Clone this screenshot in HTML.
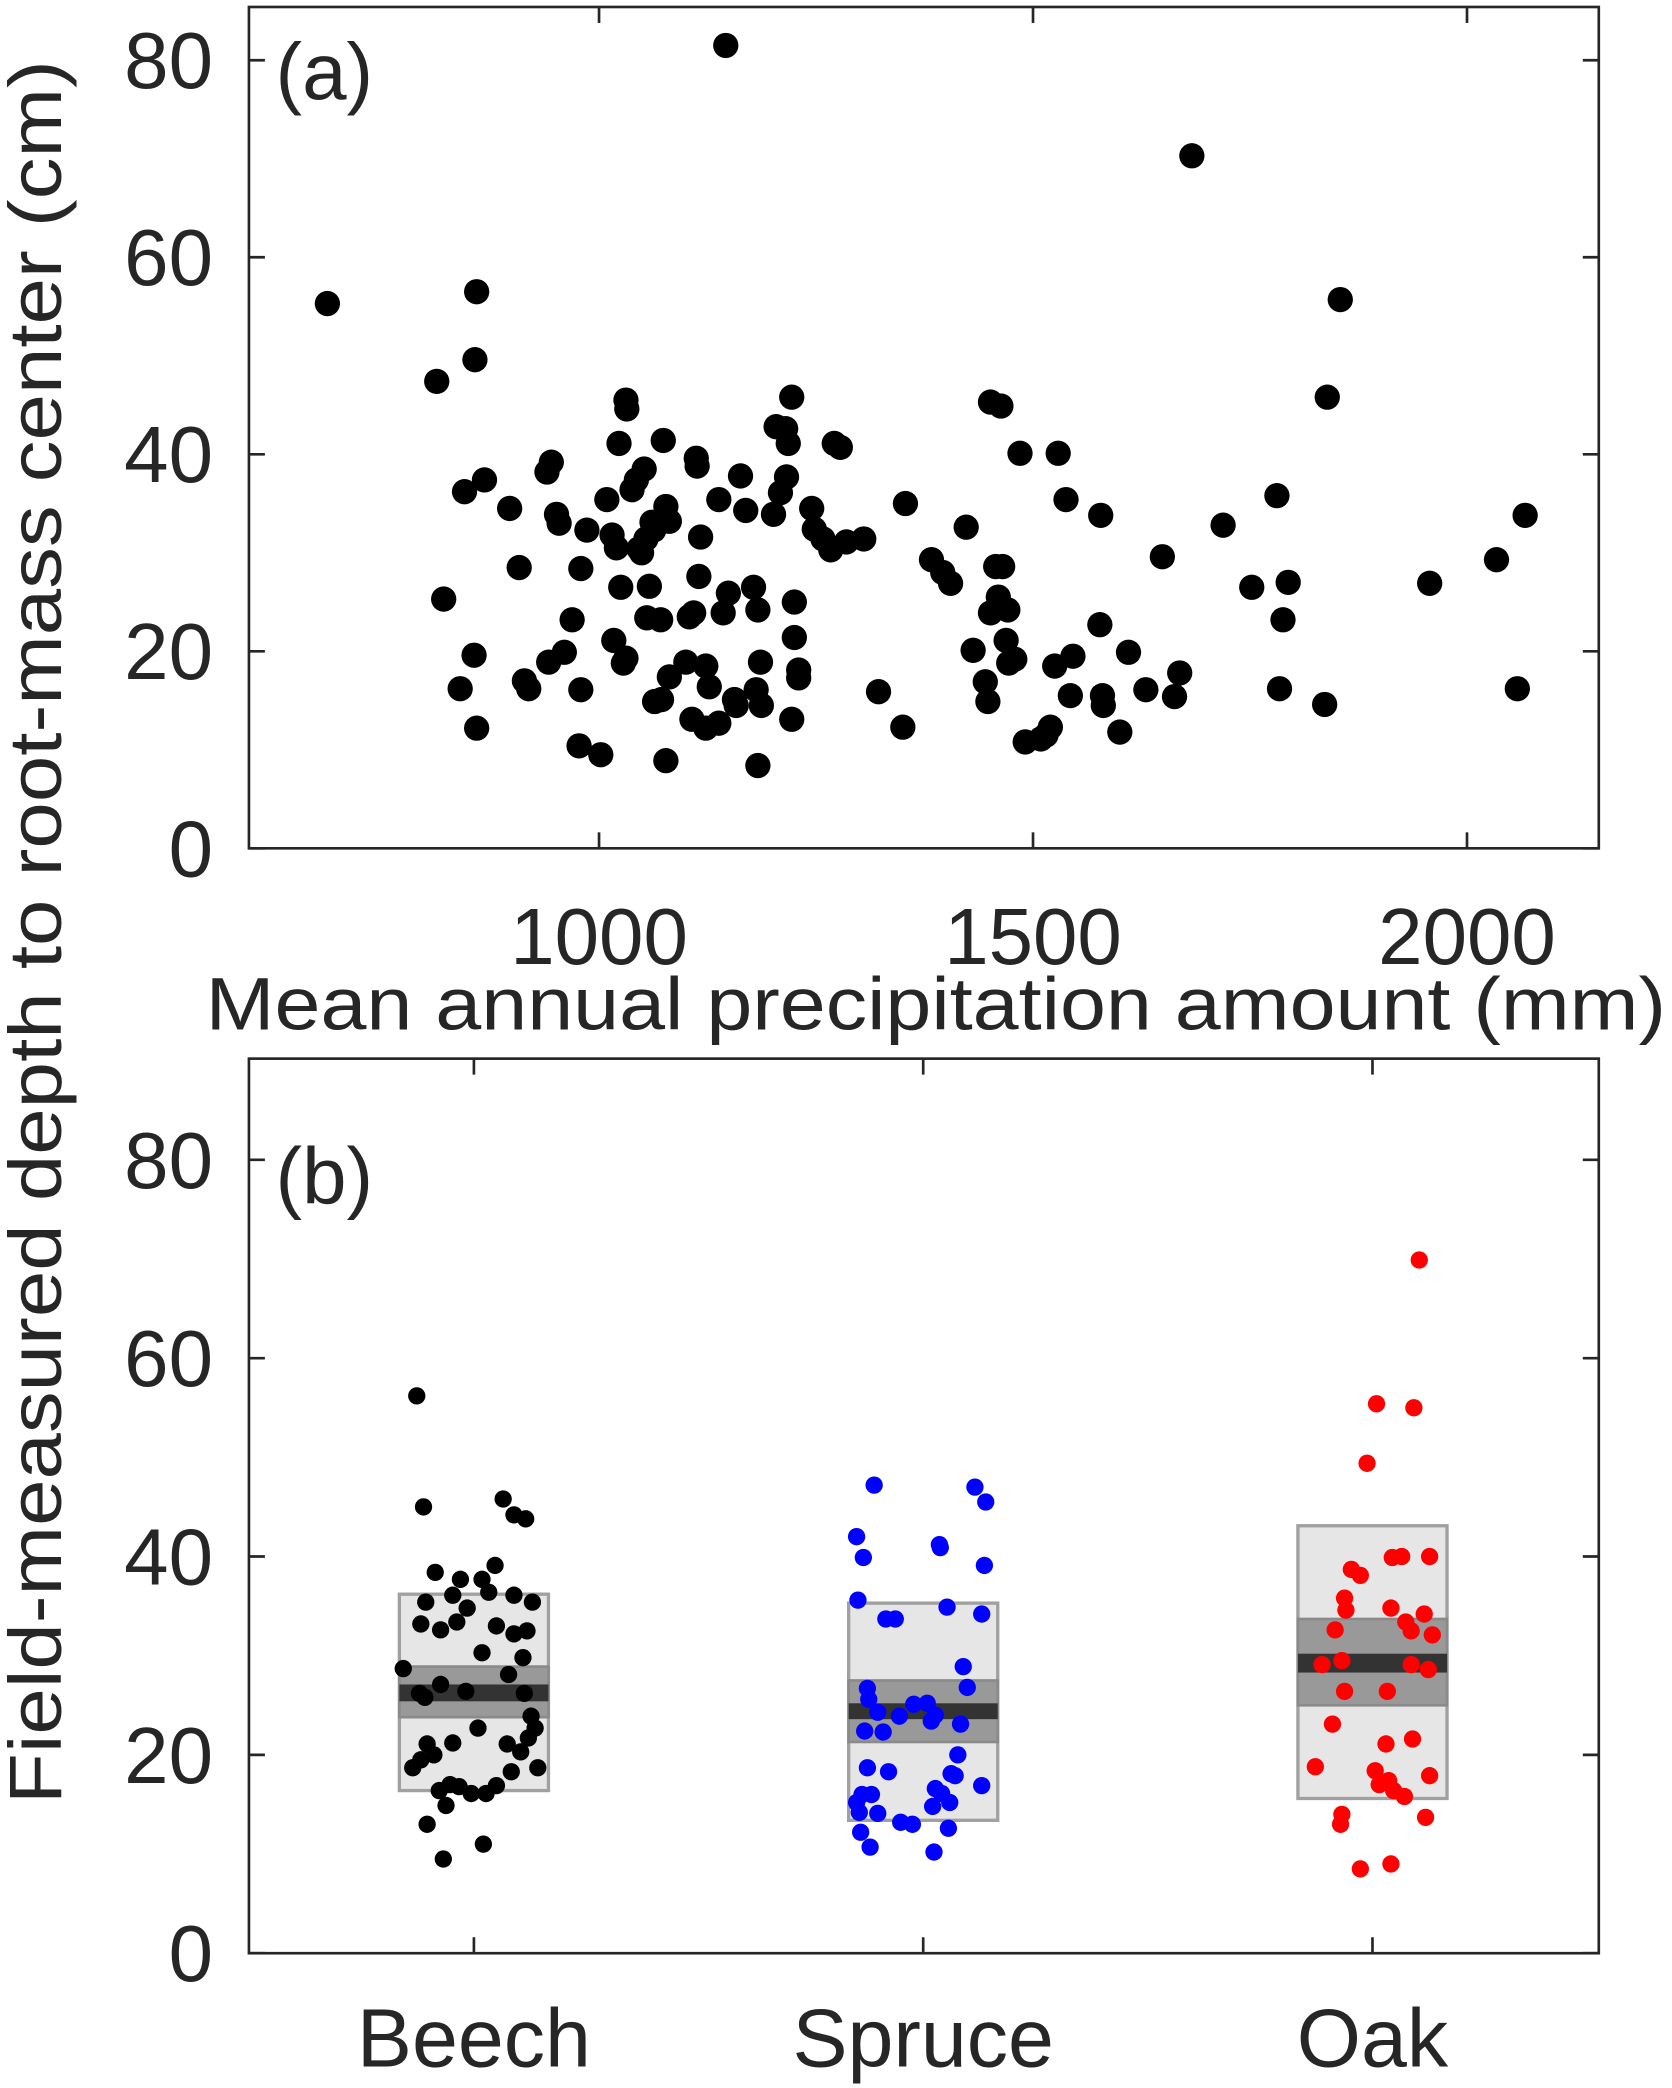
<!DOCTYPE html>
<html><head><meta charset="utf-8"><style>
html,body{margin:0;padding:0;background:#fff}
svg{display:block}
text{font-family:"Liberation Sans",Arial,sans-serif;fill:#262626}
</style></head>
<body>
<svg id="chart" width="1672" height="2088" viewBox="0 0 1256 1568" xmlns="http://www.w3.org/2000/svg">
<text x="0" y="0" font-size="56" text-anchor="middle" transform="translate(46,700) rotate(-90)" textLength="1310" lengthAdjust="spacingAndGlyphs">Field-measured depth to root-mass center (cm)</text>
<text x="703" y="773" font-size="56" text-anchor="middle" textLength="1097" lengthAdjust="spacingAndGlyphs">Mean annual precipitation amount (mm)</text>
<text x="207" y="74" font-size="60">(a)</text>
<text x="207" y="904" font-size="60">(b)</text>
<g id="ga"></g>
<g id="gb"></g>
</svg>
<script>
// Panel (a) data
const precipA=[],depthA=[];
const ptsA=[[246,228],[545,34],[895,117],[358,219],[1007,225],[328,286],[357,270],[744,302],[752,305],[997,298],[349,369],[364,360],[383,382],[411,354],[414,347],[418,386],[420,393],[390,426],[333,450],[356,492],[346,517],[358,547],[394,511],[397,517],[412,497],[424,490],[430,465],[436,518],[436,427],[441,398],[435,560],[451,567],[470,300],[471,307],[465,333],[456,375],[460,402],[463,411],[466,441],[461,481],[468,498],[470,494],[475,368],[478,360],[484,352],[480,412],[485,405],[490,392],[482,415],[491,398],[488,440],[486,464],[496,465],[498,331],[500,380],[503,391],[492,527],[503,508],[497,525],[500,571],[518,463],[521,460],[523,344],[524,350],[526,403],[515,497],[520,540],[525,433],[530,500],[533,516],[530,547],[540,543],[547,445],[540,375],[543,460],[556,357],[560,383],[552,525],[553,530],[566,441],[569,458],[571,497],[568,518],[569,575],[572,530],[583,320],[590,322],[586,370],[581,386],[592,333],[595,298],[591,358],[597,479],[600,503],[600,509],[597,452],[595,540],[610,382],[612,397],[618,405],[624,413],[627,333],[631,336],[636,407],[649,405],[660,519],[680,378],[678,546],[700,420],[708,430],[714,438],[726,396],[731,488],[740,512],[742,527],[744,460],[748,425],[750,448],[753,425],[756,481],[758,498],[757,458],[762,495],[766,340],[770,557],[782,555],[786,552],[789,546],[792,500],[795,340],[801,375],[804,522],[806,493],[826,469],[827,387],[828,522],[829,530],[841,550],[848,490],[861,518],[873,418],[882,523],[886,505],[919,394],[940,441],[959,372],[968,437],[961,517],[964,465],[995,529],[1074,438],[1124,420],[1146,387],[1140,517]];
ptsA.forEach(p=>{precipA.push(Math.round(1000+(p[0]-450)/0.652));depthA.push(+((637-p[1])/7.4).toFixed(1));});
const xTicksA=[1000,1500,2000];
const yTicks=[0,20,40,60,80];
// Panel (b) data
const categories=['Beech','Spruce','Oak'];
const beechPx=[[313,1048],[318,1132],[378,1126],[386,1138],[395,1141],[327,1181],[346,1186],[362,1186],[372,1176],[340,1198],[320,1203],[386,1198],[400,1203],[316,1220],[331,1224],[343,1218],[351,1208],[367,1196],[373,1221],[396,1225],[303,1253],[362,1241],[386,1227],[393,1245],[319,1275],[331,1265],[350,1270],[382,1258],[394,1272],[399,1289],[340,1309],[359,1298],[316,1322],[321,1310],[310,1328],[326,1318],[338,1340],[354,1347],[365,1347],[373,1341],[384,1331],[391,1316],[397,1305],[404,1328],[321,1370],[330,1345],[335,1356],[345,1342],[333,1396],[363,1385],[402,1298],[315,1272],[381,1310]];
const sprucePx=[[657,1115],[644,1154],[649,1170],[706,1160],[707,1162],[740,1176],[733,1117],[741,1128],[645,1202],[666,1216],[673,1216],[712,1207],[738,1212],[724,1252],[727,1267],[652,1268],[653,1276],[687,1280],[697,1279],[676,1289],[660,1286],[650,1300],[722,1295],[720,1318],[668,1331],[715,1332],[703,1343],[718,1334],[708,1347],[738,1341],[714,1354],[648,1348],[655,1348],[644,1354],[646,1361],[660,1362],[677,1369],[701,1357],[713,1373],[647,1376],[654,1387],[702,1391],[686,1370],[664,1301],[700,1293],[703,1288],[652,1328]];
const oakPx=[[1066,946],[1034,1054],[1062,1057],[1027,1099],[1053,1169],[1046,1170],[1015,1179],[1022,1183],[1074,1169],[1010,1200],[1011,1209],[1045,1208],[1056,1218],[1070,1212],[1003,1224],[1060,1225],[1076,1228],[993,1250],[1008,1247],[1060,1250],[1073,1254],[1010,1270],[1042,1270],[1001,1295],[1061,1306],[1041,1310],[988,1327],[1074,1334],[1033,1330],[1043,1337],[1036,1340],[1047,1345],[1055,1349],[1008,1363],[1007,1370],[1071,1365],[1022,1404],[1045,1400]];
const centersPx=[356,694,1031];
const valuesB=[],jitterB=[];
[beechPx,sprucePx,oakPx].forEach((arr,i)=>{valuesB.push(arr.map(p=>+((1467-p[1])/7.45).toFixed(1)));jitterB.push(arr.map(p=>+((p[0]-centersPx[i])/338).toFixed(3)));});
const boxOuterLo=[16.4,13.4,15.6], boxOuterHi=[36.2,35.3,43.1];
const boxMidLo=[23.8,21.3,25.0], boxMidHi=[28.9,27.5,33.7];
const boxMedLo=[25.4,23.6,28.3], boxMedHi=[27.1,25.2,30.2];
const colors=['#000000','#0000ff','#ff0000'];

const NS='http://www.w3.org/2000/svg';
function mk(parent,tag,attrs,txt){const e=document.createElementNS(NS,tag);for(const k in attrs)e.setAttribute(k,attrs[k]);if(txt!==undefined)e.textContent=txt;parent.appendChild(e);return e;}

const A={l:187,r:1201,t:5,b:637};
const xa=v=>450+(v-1000)*0.652;
const ya=v=>637-v*7.4;
const ga=document.getElementById('ga');
precipA.forEach((v,i)=>{
  const c=mk(ga,'circle',{cx:xa(v),cy:ya(depthA[i]),r:9.5,fill:'#000'});
  
  
});
function frame(g,B){
  const f=mk(g,'rect',{x:B.l,y:B.t,width:B.r-B.l,height:B.b-B.t,fill:'none',stroke:'#262626','stroke-width':2});
  
  
}
function yAxis(g,B,yf){
  yTicks.forEach(t=>{
    const y=yf(t);
    mk(g,'line',{x1:B.l,x2:B.l+12,y1:y,y2:y,stroke:'#262626','stroke-width':2});
    mk(g,'line',{x1:B.r,x2:B.r-12,y1:y,y2:y,stroke:'#262626','stroke-width':2});
    const tx=mk(g,'text',{x:160,y:y+21,'font-size':60,'text-anchor':'end'},String(t));
    
    
  });
}
frame(ga,A);yAxis(ga,A,ya);
xTicksA.forEach(t=>{
  const x=xa(t);
  mk(ga,'line',{x1:x,x2:x,y1:A.b,y2:A.b-12,stroke:'#262626','stroke-width':2});
  mk(ga,'line',{x1:x,x2:x,y1:A.t,y2:A.t+12,stroke:'#262626','stroke-width':2});
  const tx=mk(ga,'text',{x:x,y:724,'font-size':60,'text-anchor':'middle'},String(t));
  
  
});

const B={l:187,r:1201,t:795,b:1467};
const yb=v=>1467-v*7.45;
const xb=i=>356+i*337.5;
const gb=document.getElementById('gb');
categories.forEach((c,i)=>{
  const cx=xb(i),hw=56;
  const o=mk(gb,'rect',{x:cx-hw,y:yb(boxOuterHi[i]),width:2*hw,height:yb(boxOuterLo[i])-yb(boxOuterHi[i]),fill:'#e6e6e6',stroke:'#a0a0a0','stroke-width':2.5});
  
  
  const m=mk(gb,'rect',{x:cx-hw,y:yb(boxMidHi[i]),width:2*hw,height:yb(boxMidLo[i])-yb(boxMidHi[i]),fill:'#999999',stroke:'#8a8a8a','stroke-width':2});
  
  
  const d=mk(gb,'rect',{x:cx-hw,y:yb(boxMedHi[i]),width:2*hw,height:yb(boxMedLo[i])-yb(boxMedHi[i]),fill:'#333333'});
  
  
  valuesB[i].forEach((v,j)=>{
    const p=mk(gb,'circle',{cx:cx+jitterB[i][j]*338,cy:yb(v),r:6.5,fill:colors[i]});
    
    
  });
  mk(gb,'line',{x1:cx,x2:cx,y1:B.b,y2:B.b-12,stroke:'#262626','stroke-width':2});
  mk(gb,'line',{x1:cx,x2:cx,y1:B.t,y2:B.t+12,stroke:'#262626','stroke-width':2});
  const tx=mk(gb,'text',{x:cx,y:1552,'font-size':62,'text-anchor':'middle'},c);
  
  
});
frame(gb,B);yAxis(gb,B,yb);
</script>
</body></html>
